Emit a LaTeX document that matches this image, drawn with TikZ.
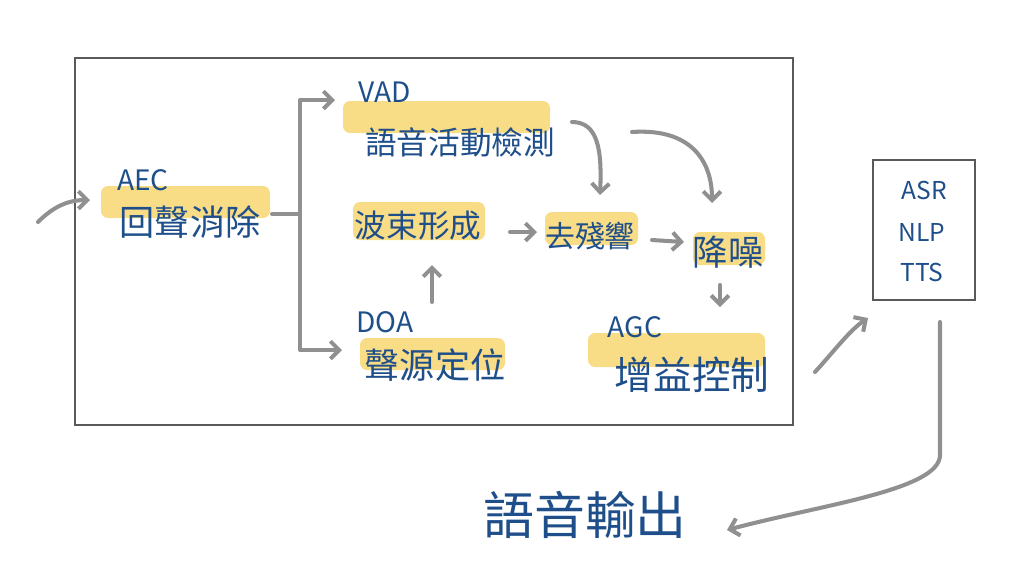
\documentclass[tikz,border=0pt]{standalone}
\usepackage{fontspec}
\setmainfont{Noto Sans CJK TC}
\usetikzlibrary{arrows.meta}
\definecolor{inkblue}{HTML}{1F4F8A}
\definecolor{marker}{HTML}{F9DC86}
\definecolor{pencil}{HTML}{909090}
\definecolor{frame}{HTML}{5A5A5A}
\tikzset{
    tnode/.style = {align=center, inner sep=0pt, text centered, text=inkblue},
    zh_node/.style = {tnode, font=\fontsize{#1}{#1}\selectfont},
    en_node/.style = {tnode, font=\fontsize{#1}{#1}\selectfont},
    mark_box/.style = {fill=marker, rounded corners=4pt},
    frame_box/.style = {draw=frame, line width=1.4pt},
    flow/.style = {draw=pencil, line width=2.3pt, line cap=round, line join=round,
        -{Straight Barb[length=5pt, width=10pt, line width=2.3pt]}}
}

\begin{document}
\begin{tikzpicture}[x=0.02cm, y=-0.02cm]
    \useasboundingbox (0,0) rectangle (1024,586);

    % frames
    \draw[frame_box] (75,58) rectangle (793,425);
    \draw[frame_box] (873,160) rectangle (975,300);

    % marker highlights
    \fill[mark_box] (101,186) rectangle (270,218);
    \fill[mark_box] (343,101) rectangle (550,133);
    \fill[mark_box] (353,202) rectangle (485,240);
    \fill[mark_box] (545,212) rectangle (638,245);
    \fill[mark_box] (693,232) rectangle (765,265);
    \fill[mark_box] (360,338) rectangle (505,370);
    \fill[mark_box] (588,333) rectangle (765,367);

    % labels
    \node[en_node=16] (aec_tag) at (143,180) {AEC};
    \node[zh_node=20] (aec) at (190,222) {回聲消除};
    \node[en_node=16] (vad_tag) at (385,92) {VAD};
    \node[zh_node=18] (vad) at (460,142) {語音活動檢測};
    \node[zh_node=18] (bf) at (418,226) {波束形成};
    \node[zh_node=17] (derev) at (590,236) {去殘響};
    \node[zh_node=20] (ns) at (728,252) {降噪};
    \node[en_node=16] (doa_tag) at (385,322) {DOA};
    \node[zh_node=20] (doa) at (435,365) {聲源定位};
    \node[en_node=16] (agc_tag) at (635,327) {AGC};
    \node[zh_node=22] (agc) at (692,375) {增益控制};
    \node[en_node=14] (asr) at (924,190) {ASR};
    \node[en_node=14] (nlp) at (922,232) {NLP};
    \node[en_node=14] (tts) at (922,272) {TTS};
    \node[zh_node=29] (out) at (585,515) {語音輸出};

    % arrow ends
    \coordinate (in_start) at (38,222);
    \coordinate (aec_in) at (90,200);
    \coordinate (aec_out) at (272,214);
    \coordinate (split) at (300,214);
    \coordinate (vad_in) at (335,100);
    \coordinate (doa_in) at (342,350);
    \coordinate (bf_out) at (510,232);
    \coordinate (derev_in) at (537,232);
    \coordinate (doa_out) at (432,302);
    \coordinate (bf_in) at (432,265);
    \coordinate (vad_out_a) at (572,122);
    \coordinate (derev_top) at (600,195);
    \coordinate (vad_out_b) at (632,132);
    \coordinate (ns_top) at (712,203);
    \coordinate (derev_out) at (652,240);
    \coordinate (ns_in) at (684,242);
    \coordinate (ns_out) at (720,285);
    \coordinate (agc_in) at (720,307);
    \coordinate (agc_out) at (815,372);
    \coordinate (asr_in) at (868,318);
    \coordinate (asr_out) at (940,322);
    \coordinate (out_in) at (727,530);

    % connectors
    \draw[flow] (in_start) .. controls (55,205) and (70,200) .. (aec_in);
    \draw[flow] (aec_out) -- (split) |- (vad_in);
    \draw[flow] (split) |- (doa_in);
    \draw[flow] (bf_out) -- (derev_in);
    \draw[flow] (doa_out) -- (bf_in);
    \draw[flow] (vad_out_a) .. controls (598,122) and (602,150) .. (derev_top);
    \draw[flow] (vad_out_b) .. controls (690,128) and (712,160) .. (ns_top);
    \draw[flow] (derev_out) -- (ns_in);
    \draw[flow] (ns_out) -- (agc_in);
    \draw[flow] (agc_out) .. controls (835,350) and (850,330) .. (asr_in);
    \draw[flow] (asr_out) -- (940,455) .. controls (940,490) and (820,505) .. (out_in);
\end{tikzpicture}
\end{document}
